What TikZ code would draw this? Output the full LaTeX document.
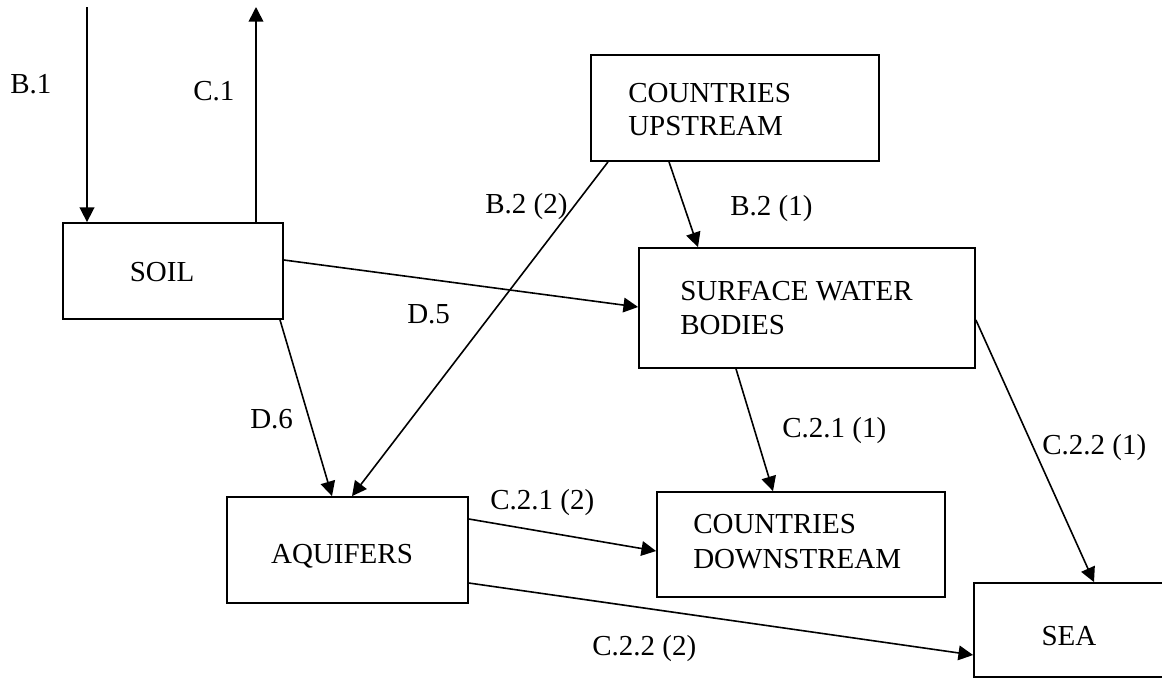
\documentclass[tikz,border=0pt]{standalone}
\usepackage{fontspec}
\setmainfont{Liberation Serif}
\usetikzlibrary{arrows.meta}
\begin{document}
\begin{tikzpicture}[x=0.75pt,y=-0.75pt,
  box/.style={draw, line width=1.35pt, rectangle, inner sep=0pt},
  txt/.style={font=\fontsize{21.75}{25}\selectfont, inner sep=0pt},
  flow/.style={line width=1.2pt, -{Triangle[length=11pt,width=11pt]}}]
\useasboundingbox (0,0) rectangle (1162,679);

% boxes
\node[box, minimum width={220*0.75pt}, minimum height={96*0.75pt}] (soil) at (173,271) {};
\node[box, minimum width={288*0.75pt}, minimum height={106*0.75pt}] (up) at (735,108) {};
\node[box, minimum width={336*0.75pt}, minimum height={120*0.75pt}] (surf) at (807,308) {};
\node[box, minimum width={241*0.75pt}, minimum height={106*0.75pt}] (aqu) at (347.5,550) {};
\node[box, minimum width={288*0.75pt}, minimum height={105*0.75pt}] (down) at (801,544.5) {};
\node[box, minimum width={196*0.75pt}, minimum height={94*0.75pt}] (sea) at (1072,630) {};

% box texts
\node[txt, anchor=base] (tsoil) at (162,281) {SOIL};
\node[txt, anchor=base west] (tup1) at (628,102) {COUNTRIES};
\node[txt, anchor=base west] (tup2) at (628,135) {UPSTREAM};
\node[txt, anchor=base west] (tsurf1) at (680,300) {SURFACE WATER};
\node[txt, anchor=base west] (tsurf2) at (680,334) {BODIES};
\node[txt, anchor=base] (taqu) at (342,563) {AQUIFERS};
\node[txt, anchor=base west] (tdown1) at (693,533) {COUNTRIES};
\node[txt, anchor=base west] (tdown2) at (693,568) {DOWNSTREAM};
\node[txt, anchor=base] (tsea) at (1069,645) {SEA};

% free ends
\coordinate (b1s) at (87,7);
\coordinate (c1e) at (256,7);

% connectors
\draw[flow] (b1s) -- (soil.north -| b1s);
\draw[flow] (soil.north -| c1e) -- (c1e);
\draw[flow] (up.south -| 669,0) -- (surf.north -| 698,0);
\draw[flow] (up.south -| 608,0) -- (aqu.north -| 352,0);
\draw[flow] (soil.east |- 0,260) -- (surf.west |- 0,307);
\draw[flow] (soil.south -| 280,0) -- (aqu.north -| 332,0);
\draw[flow] (surf.south -| 736,0) -- (down.north -| 773,0);
\draw[flow] (surf.east |- 0,320) -- (sea.north -| 1094,0);
\draw[flow] (aqu.east |- 0,519) -- (down.west |- 0,551);
\draw[flow] (aqu.east |- 0,583) -- (sea.west |- 0,655);

% connector labels
\node[txt, anchor=base west] (lb1) at (10,93) {B.1};
\node[txt, anchor=base west] (lc1) at (193,100) {C.1};
\node[txt, anchor=base west] (lb22) at (485,213) {B.2 (2)};
\node[txt, anchor=base west] (lb21) at (730,215) {B.2 (1)};
\node[txt, anchor=base west] (ld5) at (407,323) {D.5};
\node[txt, anchor=base west] (ld6) at (250,428) {D.6};
\node[txt, anchor=base west] (lc211) at (782,437) {C.2.1 (1)};
\node[txt, anchor=base west] (lc221) at (1042,454) {C.2.2 (1)};
\node[txt, anchor=base west] (lc212) at (490,509) {C.2.1 (2)};
\node[txt, anchor=base west] (lc222) at (592,655) {C.2.2 (2)};
\end{tikzpicture}
\end{document}
